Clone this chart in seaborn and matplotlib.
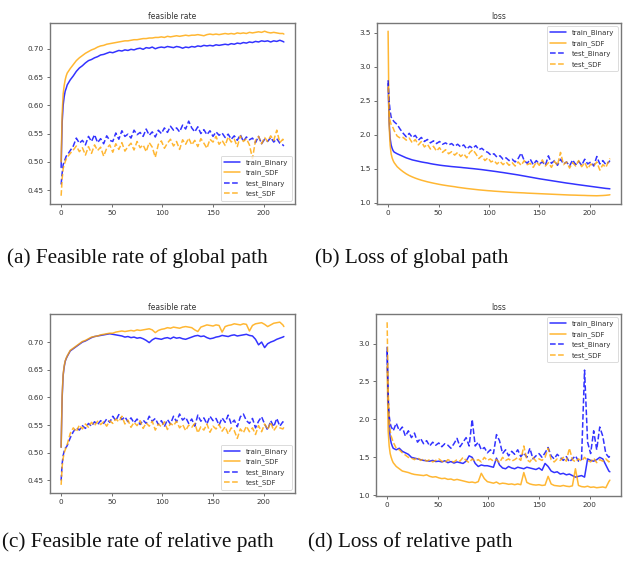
import matplotlib
matplotlib.use("Agg")
import matplotlib.pyplot as plt
import seaborn as sns

# ---------------- data ----------------
epochs = [0, 1, 2, 3, 4, 5, 6,
          9, 12, 15, 18, 21, 24, 27, 30, 33, 36,
          39, 42, 45, 48, 51, 54, 57, 60, 63, 66,
          69, 72, 75, 78, 81, 84, 87, 90, 93, 96,
          99, 102, 105, 108, 111, 114, 117, 120, 123, 126,
          129, 132, 135, 138, 141, 144, 147, 150, 153, 156,
          159, 162, 165, 168, 171, 174, 177, 180, 183, 186,
          189, 192, 195, 198, 201, 204, 207, 210, 213, 216,
          219, 220]

series_labels = ["train_Binary", "train_SDF", "test_Binary", "test_SDF"]
panel_titles = ["feasible rate", "loss", "feasible rate", "loss"]
captions = ["(a) Feasible rate of global path", "(b) Loss of global path",
            "(c) Feasible rate of relative path", "(d) Loss of relative path"]
x_ticks = [0, 50, 100, 150, 200]
rate_ticks = [0.45, 0.50, 0.55, 0.60, 0.65, 0.70]
loss_ticks_global = [1.0, 1.5, 2.0, 2.5, 3.0, 3.5]
loss_ticks_relative = [1.0, 1.5, 2.0, 2.5, 3.0]

# (a) feasible rate, global path
a_train_binary = [0.490, 0.570, 0.600, 0.615, 0.625, 0.630, 0.636,
    0.645, 0.652, 0.660, 0.666, 0.670, 0.675, 0.679, 0.681, 0.684, 0.686,
    0.689, 0.690, 0.692, 0.694, 0.693, 0.695, 0.697, 0.696, 0.698, 0.697,
    0.699, 0.698, 0.700, 0.701, 0.699, 0.702, 0.701, 0.703, 0.700, 0.702,
    0.703, 0.702, 0.704, 0.703, 0.702, 0.704, 0.703, 0.701, 0.703, 0.702,
    0.704, 0.703, 0.705, 0.704, 0.706, 0.705, 0.706, 0.705, 0.707, 0.706,
    0.707, 0.708, 0.707, 0.709, 0.708, 0.710, 0.709, 0.711, 0.710, 0.712,
    0.711, 0.713, 0.712, 0.714, 0.713, 0.714, 0.712, 0.714, 0.713, 0.715,
    0.713, 0.712]
a_train_sdf = [0.500, 0.585, 0.620, 0.635, 0.645, 0.652, 0.657,
    0.665, 0.672, 0.679, 0.684, 0.688, 0.692, 0.695, 0.698, 0.700, 0.703,
    0.705, 0.706, 0.708, 0.709, 0.710, 0.711, 0.712, 0.713, 0.714, 0.714,
    0.715, 0.716, 0.716, 0.717, 0.718, 0.718, 0.719, 0.719, 0.720, 0.720,
    0.721, 0.720, 0.722, 0.721, 0.722, 0.723, 0.722, 0.723, 0.724, 0.723,
    0.724, 0.724, 0.725, 0.724, 0.723, 0.725, 0.726, 0.725, 0.726, 0.725,
    0.726, 0.727, 0.726, 0.727, 0.726, 0.728, 0.727, 0.728, 0.727, 0.729,
    0.728, 0.729, 0.730, 0.729, 0.731, 0.729, 0.728, 0.729, 0.728, 0.727,
    0.727, 0.726]
a_test_binary = [0.460, 0.480, 0.495, 0.500, 0.505, 0.510, 0.512,
    0.520, 0.528, 0.542, 0.533, 0.538, 0.530, 0.545, 0.536, 0.548, 0.534,
    0.541, 0.532, 0.546, 0.538, 0.536, 0.551, 0.540, 0.555, 0.545, 0.549,
    0.542, 0.556, 0.548, 0.552, 0.545, 0.558, 0.547, 0.553, 0.544, 0.556,
    0.550, 0.560, 0.552, 0.563, 0.556, 0.560, 0.553, 0.565, 0.558, 0.572,
    0.560, 0.553, 0.562, 0.550, 0.557, 0.548, 0.555, 0.545, 0.553, 0.547,
    0.551, 0.543, 0.549, 0.540, 0.546, 0.538, 0.548, 0.536, 0.544, 0.539,
    0.542, 0.534, 0.545, 0.532, 0.540, 0.536, 0.543, 0.535, 0.541, 0.533,
    0.530, 0.528]
a_test_sdf = [0.440, 0.470, 0.488, 0.495, 0.500, 0.505, 0.508,
    0.515, 0.521, 0.528, 0.518, 0.525, 0.512, 0.527, 0.515, 0.530, 0.520,
    0.526, 0.510, 0.524, 0.530, 0.517, 0.532, 0.522, 0.534, 0.519, 0.527,
    0.533, 0.521, 0.536, 0.525, 0.530, 0.518, 0.534, 0.526, 0.508, 0.531,
    0.537, 0.524, 0.533, 0.540, 0.528, 0.536, 0.522, 0.539, 0.531, 0.542,
    0.530, 0.538, 0.527, 0.541, 0.533, 0.524, 0.540, 0.535, 0.545, 0.531,
    0.538, 0.529, 0.544, 0.535, 0.540, 0.527, 0.546, 0.536, 0.541, 0.530,
    0.506, 0.538, 0.545, 0.532, 0.543, 0.536, 0.546, 0.538, 0.556, 0.534,
    0.540, 0.536]

# (b) loss, global path
b_train_binary = [2.750, 2.200, 1.950, 1.850, 1.800, 1.765, 1.745,
    1.720, 1.700, 1.680, 1.660, 1.645, 1.630, 1.620, 1.610, 1.600, 1.592,
    1.585, 1.575, 1.567, 1.560, 1.553, 1.547, 1.542, 1.537, 1.532, 1.528,
    1.524, 1.520, 1.515, 1.511, 1.506, 1.502, 1.497, 1.492, 1.487, 1.481,
    1.475, 1.469, 1.463, 1.457, 1.450, 1.444, 1.437, 1.430, 1.423, 1.416,
    1.409, 1.401, 1.393, 1.385, 1.377, 1.369, 1.361, 1.353, 1.346, 1.339,
    1.332, 1.325, 1.318, 1.311, 1.304, 1.297, 1.290, 1.284, 1.278, 1.271,
    1.265, 1.259, 1.253, 1.247, 1.241, 1.235, 1.229, 1.223, 1.217, 1.211,
    1.207, 1.205]
b_train_sdf = [3.520, 2.150, 1.850, 1.720, 1.660, 1.620, 1.590,
    1.530, 1.490, 1.455, 1.425, 1.400, 1.380, 1.362, 1.346, 1.332, 1.320,
    1.308, 1.298, 1.288, 1.279, 1.270, 1.262, 1.255, 1.248, 1.242, 1.236,
    1.228, 1.222, 1.216, 1.210, 1.205, 1.200, 1.195, 1.190, 1.186, 1.182,
    1.178, 1.175, 1.171, 1.168, 1.165, 1.162, 1.159, 1.156, 1.153, 1.151,
    1.149, 1.147, 1.145, 1.142, 1.140, 1.138, 1.136, 1.134, 1.132, 1.130,
    1.128, 1.126, 1.124, 1.122, 1.120, 1.118, 1.116, 1.114, 1.113, 1.112,
    1.110, 1.109, 1.108, 1.106, 1.105, 1.104, 1.103, 1.105, 1.107, 1.110,
    1.115, 1.118]
b_test_binary = [2.800, 2.500, 2.350, 2.260, 2.230, 2.210, 2.190,
    2.150, 2.080, 2.020, 1.970, 2.020, 1.960, 1.990, 1.920, 1.960, 1.900,
    1.930, 1.880, 1.910, 1.870, 1.900, 1.860, 1.880, 1.850, 1.870, 1.830,
    1.860, 1.820, 1.850, 1.790, 1.830, 1.800, 1.840, 1.780, 1.800, 1.760,
    1.740, 1.700, 1.720, 1.670, 1.690, 1.640, 1.660, 1.620, 1.640, 1.600,
    1.650, 1.730, 1.620, 1.580, 1.640, 1.560, 1.620, 1.570, 1.600, 1.550,
    1.690, 1.580, 1.620, 1.550, 1.640, 1.570, 1.600, 1.540, 1.630, 1.560,
    1.610, 1.550, 1.640, 1.570, 1.600, 1.540, 1.680, 1.570, 1.620, 1.560,
    1.600, 1.620]
b_test_sdf = [2.700, 2.350, 2.200, 2.150, 2.120, 2.100, 2.060,
    1.980, 1.950, 1.960, 1.920, 1.950, 1.880, 1.930, 1.850, 1.900, 1.820,
    1.860, 1.790, 1.830, 1.760, 1.810, 1.740, 1.780, 1.720, 1.750, 1.700,
    1.740, 1.680, 1.720, 1.660, 1.740, 1.780, 1.720, 1.650, 1.690, 1.620,
    1.660, 1.600, 1.620, 1.570, 1.610, 1.560, 1.600, 1.550, 1.590, 1.540,
    1.600, 1.550, 1.620, 1.560, 1.580, 1.520, 1.600, 1.550, 1.630, 1.540,
    1.590, 1.520, 1.610, 1.550, 1.740, 1.560, 1.600, 1.510, 1.590, 1.540,
    1.620, 1.530, 1.590, 1.500, 1.570, 1.540, 1.600, 1.480, 1.560, 1.520,
    1.620, 1.650]

# (c) feasible rate, relative path
c_train_binary = [0.510, 0.600, 0.640, 0.655, 0.665, 0.670, 0.674,
    0.684, 0.688, 0.692, 0.696, 0.700, 0.702, 0.705, 0.708, 0.710, 0.711,
    0.712, 0.713, 0.714, 0.715, 0.714, 0.713, 0.712, 0.711, 0.709, 0.710,
    0.708, 0.709, 0.707, 0.708, 0.706, 0.703, 0.699, 0.704, 0.707, 0.706,
    0.705, 0.707, 0.708, 0.706, 0.709, 0.707, 0.708, 0.706, 0.705, 0.707,
    0.709, 0.711, 0.712, 0.710, 0.711, 0.708, 0.706, 0.707, 0.709, 0.710,
    0.712, 0.711, 0.710, 0.712, 0.713, 0.711, 0.712, 0.713, 0.714, 0.712,
    0.711, 0.705, 0.695, 0.700, 0.690, 0.697, 0.700, 0.702, 0.705, 0.707,
    0.709, 0.710]
c_train_sdf = [0.510, 0.605, 0.642, 0.657, 0.666, 0.671, 0.675,
    0.685, 0.689, 0.693, 0.697, 0.701, 0.703, 0.706, 0.709, 0.710, 0.711,
    0.713, 0.714, 0.715, 0.716, 0.716, 0.718, 0.719, 0.720, 0.719, 0.720,
    0.721, 0.720, 0.722, 0.721, 0.722, 0.723, 0.724, 0.722, 0.717, 0.721,
    0.723, 0.724, 0.726, 0.725, 0.727, 0.726, 0.725, 0.727, 0.728, 0.727,
    0.726, 0.722, 0.719, 0.727, 0.729, 0.731, 0.730, 0.729, 0.731, 0.730,
    0.718, 0.728, 0.730, 0.731, 0.733, 0.732, 0.731, 0.733, 0.732, 0.720,
    0.730, 0.733, 0.734, 0.735, 0.732, 0.728, 0.731, 0.734, 0.735, 0.736,
    0.731, 0.728]
c_test_binary = [0.450, 0.480, 0.495, 0.503, 0.508, 0.510, 0.513,
    0.527, 0.538, 0.545, 0.541, 0.549, 0.544, 0.553, 0.548, 0.556, 0.551,
    0.558, 0.553, 0.561, 0.555, 0.566, 0.558, 0.569, 0.560, 0.565, 0.556,
    0.563, 0.554, 0.561, 0.551, 0.559, 0.553, 0.566, 0.557, 0.562, 0.551,
    0.558, 0.547, 0.560, 0.552, 0.566, 0.556, 0.570, 0.559, 0.564, 0.553,
    0.561, 0.548, 0.568, 0.557, 0.563, 0.552, 0.566, 0.558, 0.562, 0.550,
    0.563, 0.555, 0.568, 0.552, 0.559, 0.547, 0.565, 0.570, 0.558, 0.553,
    0.562, 0.545, 0.557, 0.565, 0.552, 0.541, 0.558, 0.547, 0.562, 0.548,
    0.556, 0.553]
c_test_sdf = [0.442, 0.475, 0.490, 0.500, 0.505, 0.510, 0.515,
    0.535, 0.545, 0.538, 0.550, 0.543, 0.552, 0.546, 0.555, 0.549, 0.557,
    0.551, 0.556, 0.548, 0.558, 0.553, 0.561, 0.556, 0.566, 0.552, 0.559,
    0.546, 0.555, 0.549, 0.558, 0.544, 0.554, 0.548, 0.557, 0.541, 0.552,
    0.547, 0.556, 0.542, 0.553, 0.549, 0.557, 0.545, 0.551, 0.540, 0.550,
    0.546, 0.553, 0.536, 0.547, 0.541, 0.552, 0.537, 0.548, 0.543, 0.551,
    0.539, 0.547, 0.534, 0.545, 0.540, 0.526, 0.543, 0.536, 0.548, 0.538,
    0.545, 0.533, 0.549, 0.538, 0.552, 0.542, 0.555, 0.540, 0.548, 0.545,
    0.543, 0.546]

# (d) loss, relative path
d_train_binary = [2.950, 2.200, 1.900, 1.760, 1.690, 1.650, 1.620,
    1.600, 1.620, 1.580, 1.560, 1.540, 1.500, 1.490, 1.480, 1.470, 1.460,
    1.455, 1.450, 1.460, 1.445, 1.450, 1.440, 1.455, 1.430, 1.445, 1.425,
    1.440, 1.430, 1.420, 1.450, 1.520, 1.500, 1.420, 1.380, 1.400, 1.390,
    1.390, 1.380, 1.370, 1.490, 1.400, 1.360, 1.350, 1.380, 1.360, 1.350,
    1.370, 1.360, 1.350, 1.370, 1.360, 1.350, 1.340, 1.360, 1.330, 1.420,
    1.380, 1.320, 1.300, 1.310, 1.280, 1.290, 1.270, 1.280, 1.260, 1.240,
    1.250, 1.260, 1.240, 1.480, 1.460, 1.450, 1.470, 1.500, 1.480, 1.400,
    1.320, 1.310]
d_train_sdf = [2.700, 1.850, 1.650, 1.550, 1.500, 1.460, 1.430,
    1.380, 1.350, 1.320, 1.310, 1.300, 1.285, 1.275, 1.270, 1.265, 1.260,
    1.270, 1.250, 1.240, 1.245, 1.230, 1.220, 1.225, 1.210, 1.215, 1.200,
    1.210, 1.200, 1.190, 1.180, 1.170, 1.175, 1.165, 1.180, 1.290, 1.220,
    1.180, 1.170, 1.160, 1.175, 1.150, 1.160, 1.155, 1.145, 1.150, 1.140,
    1.150, 1.140, 1.300, 1.170, 1.150, 1.140, 1.135, 1.140, 1.130, 1.135,
    1.250, 1.150, 1.130, 1.125, 1.120, 1.130, 1.120, 1.115, 1.125, 1.350,
    1.130, 1.115, 1.110, 1.120, 1.105, 1.110, 1.100, 1.105, 1.110, 1.100,
    1.180, 1.200]
d_test_binary = [2.900, 2.300, 2.050, 1.950, 1.900, 1.880, 1.850,
    1.950, 1.850, 1.900, 1.780, 1.850, 1.760, 1.820, 1.700, 1.750, 1.680,
    1.720, 1.650, 1.700, 1.660, 1.690, 1.640, 1.680, 1.660, 1.620, 1.680,
    1.750, 1.640, 1.700, 1.760, 1.650, 2.000, 1.650, 1.700, 1.600, 1.630,
    1.560, 1.600, 1.550, 1.800, 1.720, 1.550, 1.600, 1.520, 1.580, 1.540,
    1.600, 1.510, 1.560, 1.500, 1.620, 1.480, 1.520, 1.550, 1.500, 1.560,
    1.630, 1.520, 1.480, 1.540, 1.500, 1.460, 1.510, 1.440, 1.480, 1.520,
    1.450, 1.470, 2.650, 1.700, 1.550, 1.850, 1.600, 1.900, 1.780, 1.550,
    1.500, 1.520]
d_test_sdf = [3.280, 2.400, 2.000, 1.850, 1.780, 1.740, 1.700,
    1.620, 1.600, 1.560, 1.530, 1.500, 1.490, 1.470, 1.500, 1.460, 1.480,
    1.450, 1.470, 1.440, 1.460, 1.480, 1.450, 1.430, 1.470, 1.450, 1.440,
    1.470, 1.450, 1.500, 1.460, 1.430, 1.480, 1.450, 1.470, 1.440, 1.500,
    1.460, 1.480, 1.450, 1.470, 1.430, 1.500, 1.460, 1.480, 1.450, 1.470,
    1.500, 1.460, 1.650, 1.470, 1.440, 1.500, 1.450, 1.480, 1.460, 1.500,
    1.620, 1.470, 1.440, 1.480, 1.460, 1.500, 1.450, 1.620, 1.470, 1.440,
    1.480, 1.450, 1.500, 1.460, 1.440, 1.490, 1.430, 1.470, 1.450, 1.480,
    1.440, 1.460]

panels = [
    [a_train_binary, a_train_sdf, a_test_binary, a_test_sdf],
    [b_train_binary, b_train_sdf, b_test_binary, b_test_sdf],
    [c_train_binary, c_train_sdf, c_test_binary, c_test_sdf],
    [d_train_binary, d_train_sdf, d_test_binary, d_test_sdf],
]
panel_yticks = [rate_ticks, loss_ticks_global, rate_ticks, loss_ticks_relative]

# ---------------- styling ----------------
sns.set_style("white")
plt.rcParams["font.family"] = ["DejaVu Sans"]

W, H = 626, 565
fig = plt.figure(figsize=(W / 100, H / 100), dpi=100)
fig.patch.set_facecolor("white")

# axes boxes in pixels: left, top, right, bottom
boxes = [(50, 23, 295, 204), (377, 23, 621, 204),
         (50, 314, 295, 493), (376, 314, 621, 496)]
legend_locs = ["lower right", "upper right", "lower right", "upper right"]
colors = ["blue", "orange", "blue", "orange"]
styles = ["-", "-", "--", "--"]

for i, (l, t, r, b) in enumerate(boxes):
    ax = fig.add_axes([l / W, 1 - b / H, (r - l) / W, (b - t) / H])
    for vals, lab, col, ls in zip(panels[i], series_labels, colors, styles):
        sns.lineplot(x=epochs, y=vals, ax=ax, color=col, linestyle=ls,
                     linewidth=1.1, label=lab, alpha=0.8)
    ax.set_xticks(x_ticks)
    ax.set_yticks(panel_yticks[i])
    ax.set_yticklabels([f"{v:.2f}" if i % 2 == 0 else f"{v:.1f}" for v in panel_yticks[i]])
    ax.set_title(panel_titles[i], fontsize=5.5, color="#333333", pad=3)
    ax.tick_params(axis="both", labelsize=5.2, length=2.5, width=0.6, pad=2,
                   colors="#555555", labelcolor="#333333", bottom=True, left=True)
    for sp in ax.spines.values():
        sp.set_color("#777777")
        sp.set_linewidth(1.0)
    leg = ax.legend(loc=legend_locs[i], fontsize=5, handlelength=2.4,
                    borderpad=0.45, labelspacing=0.55, frameon=True, fancybox=True)
    leg.get_frame().set_edgecolor("#cccccc")
    leg.get_frame().set_linewidth(0.6)
    for txt in leg.get_texts():
        txt.set_color("#333333")

caption_pos = [(137, 258), (412, 258), (138, 542), (410, 542)]
for cap, (cx, cy) in zip(captions, caption_pos):
    fig.text(cx / W, 1 - cy / H, cap, ha="center", va="center",
             fontsize=15.3, family=["Liberation Serif", "DejaVu Serif"], color="#111111")

fig.savefig("out.png", dpi=100)
